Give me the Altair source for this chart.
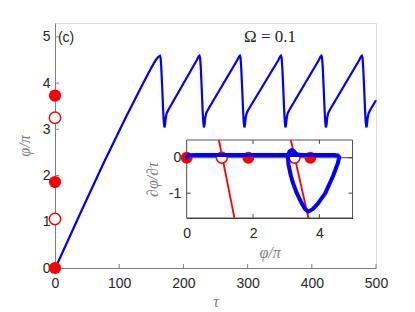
import altair as alt
import pandas as pd

# ---------------- data ----------------
tau = [0, 2.6, 40, 75, 110, 137.5, 150, 157, 161, 163.5,
       164.5, 165.5, 167, 168.5, 169.5, 170.5, 171.5, 172.5, 174, 176.5,
       221, 223.5, 225, 226, 227, 228.5, 230, 231, 232, 233, 234, 235.5, 238,
       284, 286.5, 288, 289, 290, 291.5, 293, 294, 295, 296, 297, 298.5, 301,
       348, 350.5, 352, 353, 354, 355.5, 357, 358, 359, 360, 361, 362.5, 365,
       411, 413.5, 415, 416, 417, 418.5, 420, 421, 422, 423, 424, 425.5, 428,
       474, 476.5, 478, 479, 480, 481.5, 483, 484, 485, 486, 487, 488.5, 491, 500]
phi = [0, 0.06, 1.2, 2.25, 3.25, 4.0, 4.33, 4.5, 4.57, 4.59,
       4.55, 4.35, 3.9, 3.4, 3.15, 3.04, 3.1, 3.25, 3.35, 3.42,
       4.5, 4.57, 4.59, 4.55, 4.35, 3.9, 3.4, 3.15, 3.04, 3.1, 3.25, 3.35, 3.42,
       4.5, 4.57, 4.59, 4.55, 4.35, 3.9, 3.4, 3.15, 3.04, 3.1, 3.25, 3.35, 3.42,
       4.5, 4.57, 4.59, 4.55, 4.35, 3.9, 3.4, 3.15, 3.04, 3.1, 3.25, 3.35, 3.42,
       4.5, 4.57, 4.59, 4.55, 4.35, 3.9, 3.4, 3.15, 3.04, 3.1, 3.25, 3.35, 3.42,
       4.5, 4.57, 4.59, 4.55, 4.35, 3.9, 3.4, 3.15, 3.04, 3.1, 3.25, 3.35, 3.42, 3.63]

fixed_stable = [0, 1.86, 3.73]      # filled red circles
fixed_unstable = [1.06, 3.25]       # open red circles

inset_phi = [0, 0.05, 0.3, 1.0, 2.0, 3.0, 4.0, 4.45, 4.56, 4.6,
             4.56, 4.42, 4.18, 3.95, 3.8, 3.67, 3.57, 3.45, 3.32, 3.2, 3.14,
             3.07, 3.05, 3.1, 3.17, 3.24, 3.3, 3.45, 4.0, 4.45, 4.56, 4.6,
             4.56, 4.42, 4.18, 3.95, 3.8, 3.67, 3.57, 3.45, 3.32, 3.2, 3.14,
             3.07, 3.05, 3.1, 3.17, 3.24, 3.3, 3.45, 4.0]
inset_dphi = [0, 0.07, 0.08, 0.08, 0.08, 0.08, 0.08, 0.075, 0.06, 0.02,
              -0.15, -0.5, -1.0, -1.3, -1.45, -1.52, -1.45, -1.25, -1.0, -0.7, -0.5,
              -0.2, 0.05, 0.18, 0.22, 0.18, 0.1, 0.08, 0.08, 0.075, 0.06, 0.02,
              -0.15, -0.5, -1.0, -1.3, -1.45, -1.52, -1.45, -1.25, -1.0, -0.7, -0.5,
              -0.2, 0.05, 0.18, 0.22, 0.18, 0.1, 0.08, 0.08]

null_top = 0.5
null_bottom = -1.7
null1_phi = [0.97, 1.44]
null2_phi = [3.14, 3.67]

main_xticks = [0, 100, 200, 300, 400, 500]
main_yticks = [0, 1, 2, 3, 4, 5]
inset_xticks = [0, 2, 4]
inset_yticks = [-1, 0]

# ---------------- geometry / style ----------------
W, H = 321, 245
XD, YD = [0, 500], [0, 5.3]
IXD, IYD = [0, 5], [-1.7, 0.5]
IXR, IYR = [131.7, 297.5], [195, 117]

RED = "#ff0000"
BLUE = "#0000ff"
SANS = "Liberation Sans"
SERIF = "Liberation Serif"
GRAY = "#808080"
DARK = "#262626"

xs = alt.Scale(domain=XD, nice=False, zero=False)
ys = alt.Scale(domain=YD, nice=False, zero=False)
ixs = alt.Scale(domain=IXD, range=IXR, nice=False, zero=False)
iys = alt.Scale(domain=IYD, range=IYR, nice=False, zero=False)

common = dict(ticks=False, grid=False, labelFlush=False, labelFont=SANS,
              labelFontSize=14, labelColor=DARK, format="d", titleFont=SERIF,
              titleFontStyle="italic", titleFontWeight="normal", titleFontSize=16,
              titleColor=GRAY)

main_x_axis = alt.Axis(values=main_xticks, labelPadding=8, domainColor=GRAY,
                       title="τ", titlePadding=3, **common)
main_y_axis = alt.Axis(values=main_yticks, labelPadding=5, domainColor=GRAY,
                       title="φ/π", titlePadding=10, **common)

curve = pd.DataFrame({"x": tau, "y": phi, "i": list(range(len(tau)))})
stab = pd.DataFrame({"x": [0] * len(fixed_stable), "y": fixed_stable})
unstab = pd.DataFrame({"x": [0] * len(fixed_unstable), "y": fixed_unstable})

main_line = alt.Chart(curve).mark_line(color=BLUE, strokeWidth=2.2).encode(
    x=alt.X("x:Q", scale=xs, axis=main_x_axis),
    y=alt.Y("y:Q", scale=ys, axis=main_y_axis),
    order="i:Q")

yt = pd.DataFrame({"y": main_yticks[1:]})
main_yt = alt.Chart(yt).mark_rule(color=GRAY, strokeWidth=1).encode(
    x=alt.value(0), x2=alt.value(4), y=alt.Y("y:Q", scale=ys))
xt = pd.DataFrame({"x": main_xticks[1:]})
main_xt = alt.Chart(xt).mark_rule(color=GRAY, strokeWidth=1).encode(
    y=alt.value(H), y2=alt.value(H - 4), x=alt.X("x:Q", scale=xs))

main_stab = alt.Chart(stab).mark_circle(color=RED, opacity=1, size=150).encode(
    x=alt.X("x:Q", scale=xs), y=alt.Y("y:Q", scale=ys))
main_unstab = alt.Chart(unstab).mark_point(shape="circle", filled=True, fill="white",
                                           stroke=RED, strokeWidth=1.5, opacity=1,
                                           size=130).encode(
    x=alt.X("x:Q", scale=xs), y=alt.Y("y:Q", scale=ys))

labels = pd.DataFrame({"x": [335], "y": [5.0], "t": ["Ω = 0.1"]})
title_txt = alt.Chart(labels).mark_text(font=SERIF, fontSize=17, color=DARK,
                                        baseline="middle", align="center").encode(
    x=alt.X("x:Q", scale=xs), y=alt.Y("y:Q", scale=ys), text="t:N")
panel = pd.DataFrame({"x": [4.5], "y": [4.98], "t": ["(c)"]})
panel_txt = alt.Chart(panel).mark_text(font=SANS, fontSize=14, color=DARK,
                                       baseline="middle", align="left").encode(
    x=alt.X("x:Q", scale=xs), y=alt.Y("y:Q", scale=ys), text="t:N")

main = alt.layer(main_line, main_yt, main_xt, main_stab, main_unstab, title_txt, panel_txt)

# ---------------- inset ----------------
inset_x_axis = alt.Axis(orient="bottom", offset=IYR[0] - H, values=inset_xticks,
                        labelPadding=8, domainColor=DARK, title="φ/π",
                        titlePadding=4, **common)
inset_y_axis = alt.Axis(orient="left", offset=-IXR[0], values=inset_yticks,
                        labelPadding=6, domainColor=DARK,
                        labelExpr="replace(datum.label, '−', '-')",
                        title="∂φ/∂τ", titlePadding=8, **common)

frame = pd.DataFrame({"ix": [IXD[0]], "ix2": [IXD[1]], "iy": [IYD[0]], "iy2": [IYD[1]]})
inset_frame = alt.Chart(frame).mark_rect(fill="white", stroke="#555555", strokeWidth=1).encode(
    x=alt.X("ix:Q", scale=ixs, axis=inset_x_axis), x2="ix2:Q",
    y=alt.Y("iy:Q", scale=iys, axis=inset_y_axis), y2="iy2:Q")

zero = pd.DataFrame({"ix": [IXD[0]], "ix2": [IXD[1]], "iy": [0]})
inset_zero = alt.Chart(zero).mark_rule(color="#404040", strokeWidth=1).encode(
    x=alt.X("ix:Q", scale=ixs), x2="ix2:Q", y=alt.Y("iy:Q", scale=iys))

tick_rows = []
for v in inset_xticks[1:]:
    tick_rows.append({"ix": v, "ix2": v, "iy": IYD[0], "iy2": IYD[0] + 0.11})
    tick_rows.append({"ix": v, "ix2": v, "iy": IYD[1], "iy2": IYD[1] - 0.11})
for v in inset_yticks:
    tick_rows.append({"ix": IXD[0], "ix2": IXD[0] + 0.12, "iy": v, "iy2": v})
    tick_rows.append({"ix": IXD[1], "ix2": IXD[1] - 0.12, "iy": v, "iy2": v})
inset_ticks = alt.Chart(pd.DataFrame(tick_rows)).mark_rule(color="#404040", strokeWidth=1).encode(
    x=alt.X("ix:Q", scale=ixs), x2="ix2:Q", y=alt.Y("iy:Q", scale=iys), y2="iy2:Q")

nulls = pd.DataFrame({"ix": [null1_phi[0], null2_phi[0]], "ix2": [null1_phi[1], null2_phi[1]],
                      "iy": [null_top, null_top], "iy2": [null_bottom, null_bottom]})
inset_nulls = alt.Chart(nulls).mark_rule(color=RED, strokeWidth=1.8).encode(
    x=alt.X("ix:Q", scale=ixs), x2="ix2:Q", y=alt.Y("iy:Q", scale=iys), y2="iy2:Q")

istab = pd.DataFrame({"ix": fixed_stable, "iy": [0] * len(fixed_stable)})
iunstab = pd.DataFrame({"ix": fixed_unstable, "iy": [0] * len(fixed_unstable)})
inset_stab = alt.Chart(istab).mark_circle(color=RED, opacity=1, size=140).encode(
    x=alt.X("ix:Q", scale=ixs), y=alt.Y("iy:Q", scale=iys))
inset_unstab = alt.Chart(iunstab).mark_point(shape="circle", filled=True, fill="white",
                                             stroke=RED, strokeWidth=1.5, opacity=1,
                                             size=120).encode(
    x=alt.X("ix:Q", scale=ixs), y=alt.Y("iy:Q", scale=iys))

portrait = pd.DataFrame({"ix": inset_phi, "iy": inset_dphi, "i": list(range(len(inset_phi)))})
inset_curve = alt.Chart(portrait).mark_line(color=BLUE, strokeWidth=4, strokeJoin="round",
                                            strokeCap="round").encode(
    x=alt.X("ix:Q", scale=ixs), y=alt.Y("iy:Q", scale=iys), order="i:Q")

inset = alt.layer(inset_frame, inset_zero, inset_ticks, inset_nulls,
                  inset_stab, inset_unstab, inset_curve)

chart = alt.layer(main, inset).resolve_scale(x="independent", y="independent").properties(
    width=W, height=H,
    autosize=alt.AutoSizeParams(type="none"),
    padding={"left": 47, "top": 15, "right": 20, "bottom": 40},
).configure_view(stroke=None).configure(background="white")

chart.save("out.html", embed_options={"renderer": "svg", "actions": False})
